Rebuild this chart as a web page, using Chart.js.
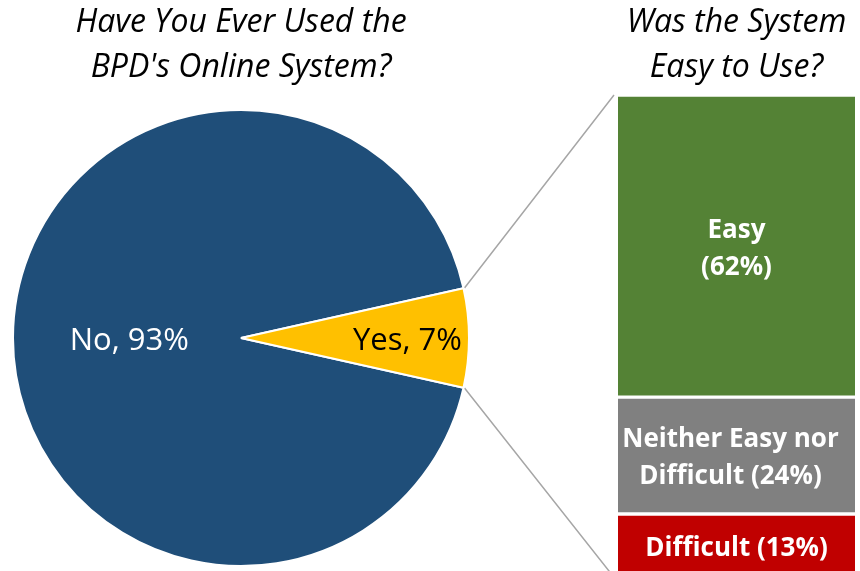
<!DOCTYPE html>
<html>
<head>
<meta charset="utf-8">
<script src="https://cdn.jsdelivr.net/npm/chart.js@4.4.1/dist/chart.umd.min.js"></script>
<style>
  html, body { margin: 0; padding: 0; background: #fff; }
  #wrap { position: relative; width: 860px; height: 571px; overflow: hidden; }
  #wrap canvas { position: absolute; top: 0; }
  #links { left: 0; z-index: 0; }
  #pie { left: 0; z-index: 1; }
  #bar { left: 592px; z-index: 1; }
</style>
</head>
<body>
<div id="wrap">
  <canvas id="links" width="860" height="571"></canvas>
  <canvas id="pie" width="482" height="571"></canvas>
  <canvas id="bar" width="268" height="571"></canvas>
</div>
<script>
const pieTitle = ['Have You Ever Used the', "BPD's Online System?"];
const pieCategories = ['No', 'Yes'];
const pieValues = [93, 7];

const barTitle = ['Was the System', 'Easy to Use?'];
const barCategories = ['Easy', 'Neither Easy nor Difficult', 'Difficult'];
const barValues = [62, 24, 13];

const FONT = '"Open Sans", Lato, sans-serif';
const pieColors = ['#1F4E79', '#FFC000'];
const barColors = ['#548235', '#808080', '#C00000'];

const titleFont = { family: FONT, size: 32, style: 'italic', weight: 'normal', lineHeight: '45px' };

// slice labels sit part way out along the middle of each slice
const pieLabels = {
  id: 'pieLabels',
  afterDatasetsDraw(chart) {
    const ctx = chart.ctx;
    const meta = chart.getDatasetMeta(0);
    const spots = [0.49, 0.73];
    const inks = ['#ffffff', '#000000'];
    ctx.save();
    ctx.font = '31px ' + FONT;
    ctx.textAlign = 'center';
    ctx.textBaseline = 'middle';
    meta.data.forEach((arc, i) => {
      const mid = (arc.startAngle + arc.endAngle) / 2;
      const r = arc.outerRadius * spots[i];
      ctx.fillStyle = inks[i];
      ctx.fillText(`${pieCategories[i]}, ${pieValues[i]}%`, arc.x + Math.cos(mid) * r, arc.y + Math.sin(mid) * r + 3);
    });
    ctx.restore();
  }
};

// bar segment labels, wrapped after the given word count
const breaks = [1, 3, 0];
const barLabels = {
  id: 'barLabels',
  afterDatasetsDraw(chart) {
    const ctx = chart.ctx;
    ctx.save();
    ctx.font = 'bold 26px ' + FONT;
    ctx.fillStyle = '#ffffff';
    ctx.textAlign = 'center';
    ctx.textBaseline = 'middle';
    barCategories.forEach((cat, i) => {
      const el = chart.getDatasetMeta(i).data[0];
      const words = `${cat} (${barValues[i]}%)`.split(' ');
      const lines = breaks[i] ? [words.slice(0, breaks[i]).join(' '), words.slice(breaks[i]).join(' ')] : [words.join(' ')];
      const cy = (el.y + el.base) / 2;
      const lh = 37;
      lines.forEach((ln, k) => {
        ctx.fillText(ln, el.x - (i === 1 ? 6 : 0), cy + (k - (lines.length - 1) / 2) * lh + 3);
      });
    });
    ctx.restore();
  }
};

const pieChart = new Chart(document.getElementById('pie'), {
  type: 'pie',
  data: {
    labels: pieCategories,
    datasets: [{
      data: pieValues,
      backgroundColor: pieColors,
      borderColor: '#ffffff',
      borderWidth: 2
    }]
  },
  options: {
    responsive: false,
    animation: false,
    // turn the small slice so it faces the bar on the right
    rotation: 90 + (pieValues[1] / (pieValues[0] + pieValues[1])) * 180,
    layout: { padding: { left: 12, right: 12, top: 0, bottom: 4 } },
    plugins: {
      legend: { display: false },
      tooltip: { enabled: false },
      title: {
        display: true,
        text: pieTitle,
        color: '#000',
        font: titleFont,
        padding: { top: 0, bottom: 19 }
      }
    }
  },
  plugins: [pieLabels]
});

const barChart = new Chart(document.getElementById('bar'), {
  type: 'bar',
  data: {
    labels: [''],
    datasets: barCategories.map((cat, i) => ({
      label: cat,
      data: [barValues[i]],
      backgroundColor: barColors[i],
      borderColor: '#ffffff',
      borderWidth: { top: 2, bottom: 2, left: 0, right: 0 },
      borderSkipped: false,
      barPercentage: 1,
      categoryPercentage: 1
    }))
  },
  options: {
    responsive: false,
    animation: false,
    layout: { padding: { left: 26, right: 5, top: 0, bottom: 0 } },
    scales: {
      x: { display: false, stacked: true },
      y: { display: false, stacked: true, reverse: true, min: 0, max: 97.7 }
    },
    plugins: {
      legend: { display: false },
      tooltip: { enabled: false },
      title: {
        display: true,
        text: barTitle,
        color: '#000',
        font: titleFont,
        padding: { top: 0, bottom: 5 }
      }
    }
  },
  plugins: [barLabels]
});

// grey leader lines from the "Yes" slice to the stacked bar
function drawLinks() {
  const cv = document.getElementById('links');
  const ctx = cv.getContext('2d');
  const base = cv.getBoundingClientRect();
  const pr = pieChart.canvas.getBoundingClientRect();
  const br = barChart.canvas.getBoundingClientRect();
  const arc = pieChart.getDatasetMeta(0).data[1];
  const top = barChart.getDatasetMeta(0).data[0];
  const last = barChart.getDatasetMeta(barCategories.length - 1).data[0];
  const px = pr.left - base.left, py = pr.top - base.top;
  const bx = br.left - base.left, by = br.top - base.top;
  const r = arc.outerRadius + 1;
  const barLeft = bx + top.x - top.width / 2 - 4;
  ctx.strokeStyle = '#A6A6A6';
  ctx.lineWidth = 1.5;
  ctx.beginPath();
  // startAngle is the upper edge of the slice, endAngle the lower
  ctx.moveTo(px + arc.x + Math.cos(arc.startAngle) * r, py + arc.y + Math.sin(arc.startAngle) * r);
  ctx.lineTo(barLeft, by + top.base);
  ctx.moveTo(px + arc.x + Math.cos(arc.endAngle) * r, py + arc.y + Math.sin(arc.endAngle) * r);
  ctx.lineTo(barLeft, by + last.y);
  ctx.stroke();
}
drawLinks();
</script>
</body>
</html>
